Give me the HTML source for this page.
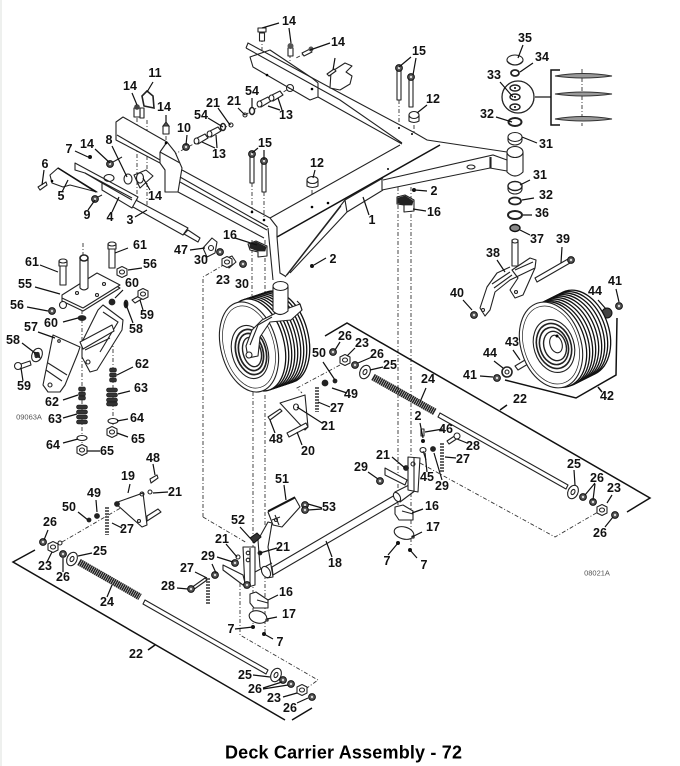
<!DOCTYPE html>
<html><head><meta charset="utf-8"><style>
html,body{margin:0;padding:0;background:#fff}
svg{display:block;filter:blur(.35px)}
text{font-family:"Liberation Sans",sans-serif;font-weight:bold;font-size:12.5px;fill:#111;text-anchor:middle;dominant-baseline:central}
.p{fill:#fff;stroke:#222;stroke-width:1.1;stroke-linejoin:round}
.n{fill:none;stroke:#222;stroke-width:1.1}
.l{fill:none;stroke:#111;stroke-width:1.2}
.d{fill:none;stroke:#333;stroke-width:.9;stroke-dasharray:4 2 1 2}
.b{fill:none;stroke:#111;stroke-width:1.5}
.k{fill:#222;stroke:#222;stroke-width:.8}
.t{fill:#fff;stroke:#111;stroke-width:1.3}
</style></head><body>
<svg width="680" height="766" viewBox="0 0 680 766" xmlns="http://www.w3.org/2000/svg">
<defs>
<g id="nut"><circle r="3.4" fill="#555" stroke="#111"/><circle r="1.2" fill="#ddd"/></g>
<g id="hx"><path d="M-5,-3L0,-5.5 5,-3 5,3 0,5.5 -5,3Z" class="p"/><ellipse rx="2.5" ry="2" class="n"/></g>
<g id="wa"><ellipse rx="5" ry="7" class="p" transform="rotate(25)"/><ellipse rx="1.8" ry="2.7" class="n" transform="rotate(25)"/></g>
<g id="col"><path d="M-6,-2L4,-7 7,-3 -3,3Z" class="p"/><ellipse cx="-4.5" cy="0" rx="2.4" ry="3" class="p"/></g>
<g id="sp"><rect x="-5.5" y="0" width="11" height="4" rx="2" fill="#333" stroke="#111" stroke-width=".6"/></g>
</defs>
<rect width="680" height="766" fill="#fff"/>
<rect width="2" height="766" fill="#eef0ee"/>

<!-- dashed construction lines -->
<path class="d" d="M252,183V212M264,192V220M252,240V296M265,240V300M253,392V625M265,395V635M240,583V635L318,680 307,688M203,517V277L227,263M203,517L247,543"/>
<path class="d" d="M398,187V505M411,187V547M420,463L555,537 598,512M399,100V128M414,125V150M312,190V208M83,243V255M82,310V445M113,340V430M62,542L143,495M340,365L297,388 302,393M173,155L231,124M245,115L290,88M262,38V50M290,54V72M308,52L296,58M147,120V205M137,118V200M166,127V145M582,69V126"/>

<!-- main frame -->
<path class="p" style="stroke:none" d="M246,48L248,43 340,93 415,133 427,140 507,152 507,171 490,168 382,190 347,212 345,200 277,237 268,228 270,218 400,145Z"/>
<path class="p" d="M250,57L253,67 310,100 318,97 318,83 312,78 270,50Z"/>
<path class="n" d="M246,48L248,43 340,93 415,133 427,140 507,152M246,48L340,100 402,143M318,97L402,144"/>
<circle cx="267" cy="75" r="1.3"/><circle cx="312" cy="89" r="1.3"/><ellipse cx="290" cy="88" rx="3.5" ry="3.5" class="n"/>
<path class="p" d="M330,88L331,72 345,63 352,66 346,72 352,76 350,84 340,90Z"/>
<path class="n" d="M270,218L400,145M270,218L277,227 277,237"/>
<path class="b" d="M277,237L440,145"/>
<path class="n" d="M383,180L493,155 507,160M382,190L490,168 507,171M382,178V190M490,157V168"/>
<path class="n" d="M345,200L383,178M347,212L383,190M345,200L347,212"/>
<path class="n" d="M345,200L285,277M347,212L290,273M341,206L287,275"/>
<path class="n" d="M268,228L273,280M277,237L280,273 285,276"/>
<ellipse cx="471" cy="167" rx="4" ry="2" class="n"/>
<circle cx="388" cy="169" r="1"/><circle cx="399" cy="128" r="1"/><circle cx="412" cy="134" r="1"/>

<!-- left beam block -->
<path class="p" d="M116,122L123,117 167,142 175,152 182,168 178,192 165,192 165,170 160,163 116,140Z"/>
<path class="n" d="M117,135L160,160M160,152L180,163M167,142L160,152M160,152V163"/>
<path class="n" d="M182,170L270,218M180,177L268,227M180,182L267,230M178,192L264,238"/>
<circle cx="252" cy="212" r="1.3"/><circle cx="264" cy="220" r="1.3"/><circle cx="312" cy="207" r="1.3"/><circle cx="328" cy="203" r="1.3"/><circle cx="166" cy="143" r="1.3"/>
<path class="p" d="M134,175L146,170 153,176 140,188Z"/><ellipse cx="140" cy="178" rx="3.5" ry="5" class="p"/>

<!-- arm 3/4/5 -->
<path class="p" d="M132,198L188,228 183,235 133,207Z"/>
<path class="p" d="M75,163L138,197 132,208 102,190 102,183 85,173 75,170Z"/>
<path class="n" d="M85,173L132,198M102,183L132,200"/>
<path class="p" d="M188,230L200,238 198,242 184,234Z"/>
<path class="p" d="M50,175L58,168 97,192 70,185 63,187 52,183Z"/><path class="b" d="M58,168L96,192"/>
<ellipse cx="109" cy="178" rx="5" ry="3.5" class="n"/>
<circle cx="52" cy="181" r="1.3"/>
<path class="p" d="M203,248L212,238 217,242 215,253 207,257Z"/><circle cx="211" cy="248" r="2.5" class="n"/>

<!-- D ring, bolts, hardware top left -->
<path class="n" style="stroke-width:1.6" d="M144,106L142,96 147,91 153,96 154,108Z"/>
<path class="p" d="M140,108h4v10h-4Z"/>
<path class="p" d="M134,108h6v9h-6Z"/><circle cx="137" cy="107" r="2.8" fill="#444"/>
<path class="p" d="M163,126h6v8h-6Z"/><path d="M163,126h6l-3,-4Z" fill="#555" stroke="#222"/>
<use href="#nut" x="186" y="147"/>
<use href="#nut" x="110" y="164"/><path class="n" d="M113,162L122,157"/>
<circle cx="90" cy="157" r="2" fill="#111"/>
<ellipse cx="128" cy="179" rx="4" ry="5" class="p"/>
<use href="#nut" x="95" y="199"/><path class="n" d="M98,197L102,195"/>
<path class="p" d="M38,187L46,182 47,185 40,190Z"/>
<use href="#col" x="201" y="141"/><use href="#col" x="214" y="134"/>
<use href="#col" x="264" y="104"/><use href="#col" x="276" y="98"/>
<ellipse cx="223" cy="127" rx="2.5" ry="3.5" class="p" style="stroke-width:1.5"/><circle cx="231" cy="125" r="2" class="n"/>
<ellipse cx="252" cy="111" rx="2.5" ry="3.5" class="p" style="stroke-width:1.5"/><circle cx="245" cy="115" r="2" class="n"/>
<path class="p" d="M259.500,33h5v8h-5Z"/><path class="p" d="M258,28h8v4h-8Z"/>
<path class="p" d="M288,48h5v8h-5Z"/><circle cx="290.500" cy="46" r="3" fill="#555"/>
<path class="p" d="M302,53L310,49 312,52 304,56Z"/><circle cx="311" cy="49" r="2.5" fill="#555"/>
<path class="p" d="M327,74L334,69 336,71 329,76Z"/>

<!-- vertical bolts 15 -->
<path class="p" d="M250,155h4v28h-4ZM262,162h4v30h-4ZM397,68h4v32h-4ZM409,77h4v30h-4Z"/>
<use href="#nut" x="252" y="154"/><use href="#nut" x="264" y="161"/><use href="#nut" x="399" y="68"/><use href="#nut" x="411" y="77"/>
<!-- 12 bumpers -->
<path class="p" d="M307,180h11v6q-5.500,3 -11,0Z"/><ellipse cx="312.500" cy="180" rx="5.500" ry="3.500" class="p"/>
<path class="p" d="M409,115h10v6q-5,3 -10,0Z"/><ellipse cx="414" cy="115" rx="5" ry="3.500" class="p"/>

<!-- blocks 16 upper -->
<path class="p" d="M248,244L256,241 267,246 267,256 258,257 258,252 250,250Z"/><path class="k" d="M250,244l6,-2 10,5 -1,4 -7,0 -8,-3Z"/>
<path class="p" d="M397,197L405,195 414,200 414,211 404,212 404,205 397,204Z"/><path class="k" d="M398,198l7,-2 8,5 -1,4 -8,0 -6,-2Z"/>

<!-- stack right -->
<ellipse cx="515" cy="60" rx="8" ry="5" class="p"/><path class="n" d="M507,61Q515,69 523,61"/>
<ellipse cx="515" cy="73" rx="4" ry="3" class="p" style="stroke-width:1.8"/>
<circle cx="518" cy="97" r="16" class="n" style="stroke-width:1.3"/>
<ellipse cx="515" cy="88" rx="5" ry="3" class="p" style="stroke-width:1.4"/><ellipse cx="515" cy="97" rx="5" ry="3" class="p" style="stroke-width:1.4"/><ellipse cx="515" cy="107" rx="5" ry="3" class="p" style="stroke-width:1.4"/>
<circle cx="515" cy="88" r="1"/><circle cx="515" cy="97" r="1"/><circle cx="515" cy="107" r="1"/>
<path class="l" d="M535,97H551"/><path class="b" d="M560,70H551V125H560"/>
<path d="M555,76Q583,71 612,76Q583,80 555,76ZM555,94Q583,90 612,94Q583,98 555,94ZM555,119Q583,114 612,119Q583,123 555,119Z" fill="#999" stroke="#333"/>
<ellipse cx="515" cy="122" rx="6.500" ry="4" class="p" style="stroke-width:2"/>
<path class="p" d="M508,137v3a7,5 0 0 0 14,0v-3Z"/><ellipse cx="515" cy="137" rx="7" ry="4.500" class="p"/>
<path class="p" d="M507,152V172Q515,180 523,172V152Z"/><ellipse cx="515" cy="152" rx="8" ry="5.500" class="p"/>
<path class="n" d="M491,157V168"/>
<path class="p" d="M508,186v3a7,5 0 0 0 14,0v-3Z"/><ellipse cx="515" cy="186" rx="7" ry="4.500" class="p" style="stroke-width:1.4"/>
<ellipse cx="515" cy="201" rx="6" ry="3.500" class="p" style="stroke-width:1.8"/>
<ellipse cx="515" cy="215" rx="7" ry="4" class="p" style="stroke-width:2"/>
<ellipse cx="515" cy="228" rx="5" ry="3.500" fill="#888" stroke="#111" stroke-width="1.4"/>
<!-- fork 38 -->
<path class="p" d="M512,240h6v26h-6Z"/><ellipse cx="515" cy="241" rx="3" ry="2" class="p"/>
<path class="p" d="M510,267L497,273 487,287 480,308 485,316 490,310 495,292 510,280 535,268 523,295 515,298 510,290 518,278 512,270 530,258 536,260 535,268 510,280"/>
<path class="n" d="M492,284L510,272M494,288L512,275M515,270L533,262"/>
<circle cx="483" cy="310" r="1.500" class="n"/><circle cx="516" cy="292" r="1.500" class="n"/>
<path class="p" d="M535,278L568,259 570,263 537,282Z"/><use href="#nut" x="571" y="260"/>
<use href="#nut" x="474" y="315"/>
<use href="#nut" x="619" y="306"/>
<circle cx="607" cy="313" r="5" fill="#444" stroke="#111"/>
<path class="p" d="M515,366L525,360 528,364 518,370Z"/>
<circle cx="507" cy="372" r="5" class="p" style="stroke-width:1.6"/><circle cx="507" cy="372" r="2" class="n"/>
<use href="#nut" x="497" y="378"/>

<!-- wheel right -->
<g id="w2">
<ellipse cx="579" cy="333" rx="30" ry="44" class="t" transform="rotate(-18 579 333)"/>
<ellipse cx="576" cy="334.500" rx="30" ry="44" class="t" transform="rotate(-18 576 334.500)"/>
<ellipse cx="573" cy="336" rx="30" ry="44" class="t" transform="rotate(-18 573 336)"/>
<ellipse cx="570" cy="337.500" rx="30" ry="44" class="t" transform="rotate(-18 570 337.500)"/>
<ellipse cx="567" cy="339" rx="30" ry="44" class="t" transform="rotate(-18 567 339)"/>
<ellipse cx="564" cy="340.500" rx="30" ry="44" class="t" transform="rotate(-18 564 340.500)"/>
<ellipse cx="561" cy="342" rx="30" ry="44" class="t" transform="rotate(-18 561 342)"/>
<ellipse cx="558" cy="343.500" rx="30" ry="44" class="t" transform="rotate(-18 558 343.500)"/>
<ellipse cx="555" cy="344.500" rx="30" ry="44" class="t" transform="rotate(-18 555 344.500)"/>
<ellipse cx="551" cy="345" rx="30" ry="44" class="p" transform="rotate(-18 551 345)"/>
<ellipse cx="551" cy="345" rx="27" ry="40" class="n" style="stroke-width:.7" transform="rotate(-18 551 345)"/>
<ellipse cx="554" cy="346" rx="20" ry="27" class="n" transform="rotate(-18 554 346)"/>
<ellipse cx="554" cy="346" rx="17" ry="23" class="n" style="stroke-width:1.6" transform="rotate(-18 554 346)"/>
<ellipse cx="554" cy="346" rx="14" ry="19" class="n" style="stroke-width:1.6" transform="rotate(-18 554 346)"/>
<ellipse cx="555" cy="346" rx="11" ry="15" class="n" style="stroke-width:1.4" transform="rotate(-18 555 346)"/>
<ellipse cx="556" cy="344" rx="6" ry="9" class="p" transform="rotate(-18 556 344)"/>
<circle cx="557" cy="336" r="1.500"/>
</g>

<!-- wheel left -->
<g id="w1">
<ellipse cx="280" cy="337" rx="28" ry="47" class="t" transform="rotate(-15 280 337)"/>
<ellipse cx="277" cy="338" rx="28" ry="47" class="t" transform="rotate(-15 277 338)"/>
<ellipse cx="274" cy="339" rx="28" ry="47" class="t" transform="rotate(-15 274 339)"/>
<ellipse cx="271" cy="340" rx="28" ry="47" class="t" transform="rotate(-15 271 340)"/>
<ellipse cx="268" cy="341" rx="28" ry="47" class="t" transform="rotate(-15 268 341)"/>
<ellipse cx="265" cy="342" rx="28" ry="47" class="t" transform="rotate(-15 265 342)"/>
<ellipse cx="262" cy="343" rx="28" ry="47" class="t" transform="rotate(-15 262 343)"/>
<ellipse cx="259" cy="344" rx="28" ry="47" class="t" transform="rotate(-15 259 344)"/>
<ellipse cx="256" cy="345" rx="28" ry="47" class="t" transform="rotate(-15 256 345)"/>
<ellipse cx="249" cy="347" rx="28" ry="46" class="p" transform="rotate(-15 249 347)"/>
<ellipse cx="249" cy="347" rx="25" ry="42" class="n" style="stroke-width:.7" transform="rotate(-15 249 347)"/>
<ellipse cx="250" cy="352" rx="18" ry="27" class="n" transform="rotate(-15 250 352)"/>
<ellipse cx="251" cy="352" rx="15" ry="23" class="n" style="stroke-width:1.7" transform="rotate(-15 251 352)"/>
<ellipse cx="251" cy="352" rx="12" ry="19" class="n" style="stroke-width:1.7" transform="rotate(-15 251 352)"/>
<ellipse cx="252" cy="352" rx="9" ry="15" class="n" style="stroke-width:1.4" transform="rotate(-15 252 352)"/>
</g>
<!-- fork left and post -->
<path class="p" d="M278,312L300,304 302,310 291,320 270,322 260,337 258,356 248,358 246,346 252,330 262,320Z"/>
<path class="n" d="M272,317L258,325 250,345"/>
<circle cx="249" cy="355" r="3" class="p"/>
<path class="n" d="M297,301L300,304 302,310"/>
<path class="p" d="M273,287V311Q280,318 288,311V287Z"/><ellipse cx="280.500" cy="286" rx="7.500" ry="4.500" class="p"/>

<!-- hardware near 23/30 -->
<path class="p" d="M225,259L232,256 236,262 229,268Z"/><use href="#hx" x="227" y="262"/>
<use href="#nut" x="220" y="252"/>
<use href="#nut" x="243" y="264"/>
<circle cx="312" cy="266" r="2" fill="#111"/>
<circle cx="414" cy="190" r="2" fill="#111"/>

<!-- suspension left -->
<path class="p" d="M62,298L97,276 120,288 83,311 62,301Z"/>
<path class="p" d="M62,295L97,273 120,285 83,308 62,298Z"/>
<circle cx="77" cy="293" r="1.500" class="n"/><circle cx="97" cy="295" r="1.500" class="n"/><circle cx="104" cy="284" r="1.500" class="n"/>
<path class="p" d="M80,258V288Q84,292 88,288V258Z"/><ellipse cx="84" cy="258" rx="4" ry="3" class="p" style="stroke-width:1.6"/>
<path class="p" d="M60,265h6v20h-6Z"/><path class="p" d="M59,261h8v5h-8Z"/><ellipse cx="63" cy="261" rx="4" ry="2" class="p"/>
<path class="p" d="M109,249h6v19h-6Z"/><path class="p" d="M108,244h8v5h-8Z"/><ellipse cx="112" cy="244" rx="4" ry="2" class="p"/>
<use href="#hx" x="122" y="272"/>
<use href="#nut" x="52" y="311"/><circle cx="63" cy="305" r="3.500" class="p"/>
<circle cx="112" cy="302" r="3" class="k"/>
<ellipse cx="82" cy="318" rx="4" ry="2.500" class="k"/>
<path class="p" d="M132,300L142,294 145,297 135,303Z"/><use href="#hx" x="143" y="294"/>
<ellipse cx="126" cy="304" rx="2" ry="4" class="k"/>
<path class="p" d="M43,385L53,335 80,347 78,353 65,385 60,392 48,392Z"/>
<path class="p" d="M82,342L98,310 103,305 123,320 122,330 97,370 90,372 82,357Z"/>
<path class="n" d="M103,312L118,322 100,352M48,363L67,375M46,370L62,381M85,350L110,338"/>
<path class="p" d="M80,342L112,325 114,331 83,349Z"/>
<circle cx="88" cy="362" r="2" class="n"/><circle cx="50" cy="385" r="2" class="n"/><circle cx="59" cy="341" r="1.300" class="n"/>
<use href="#wa" x="37" y="355"/>
<path class="k" d="M34,352l5,1 1,5 -5,-2Z"/>
<path class="p" d="M18,365L30,361 31,365 20,369Z"/><circle cx="18" cy="366" r="3.500" class="p"/>
<g transform="translate(113,368) scale(.65,1)"><use href="#sp"/><use href="#sp" y="5"/><use href="#sp" y="10"/></g>
<g transform="translate(112,388)"><use href="#sp"/><use href="#sp" y="5"/><use href="#sp" y="10"/><use href="#sp" y="14"/></g>
<ellipse cx="113" cy="421" rx="5" ry="2.500" class="p"/><use href="#hx" x="112" y="432"/>
<g transform="translate(82,387) scale(.65,1)"><use href="#sp"/><use href="#sp" y="5"/><use href="#sp" y="9"/></g>
<g transform="translate(82,405)"><use href="#sp"/><use href="#sp" y="5"/><use href="#sp" y="10"/><use href="#sp" y="15"/></g>
<ellipse cx="82" cy="438" rx="5" ry="2.500" class="p"/><use href="#hx" x="82" y="450"/>

<!-- plate 20 -->
<path class="p" d="M280,403L305,395 308,427 305,430Z"/>
<path class="p" d="M287,433L306,423 308,427 289,437Z"/>
<path class="p" d="M268,417L280,409 282,411 270,420Z"/>
<ellipse cx="296" cy="407" rx="2.500" ry="3" class="n"/>
<path d="M317,387V412" stroke="#666" stroke-width="4" stroke-dasharray="2 1"/>
<circle cx="325" cy="383" r="3" class="k"/><circle cx="335" cy="381" r="2" class="k"/>
<use href="#nut" x="333" y="352"/>
<use href="#hx" x="345" y="360"/><use href="#nut" x="355" y="365"/>
<use href="#wa" x="365" y="372"/>
<!-- spring 24 upper and rod -->
<path d="M373,377L435,412" stroke="#222" stroke-width="7" stroke-dasharray="1.600 .5"/>
<path class="p" d="M440,413L568,485 566,489 438,417Z"/>
<use href="#wa" x="573" y="492"/><use href="#nut" x="583" y="497"/><use href="#nut" x="593" y="502"/>
<use href="#hx" x="602" y="510"/><use href="#nut" x="615" y="515"/>
<!-- bracket 22 upper -->
<path class="b" d="M325,336L347,323 650,498 627,512M500,410L507,405"/>
<!-- bracket 42 -->
<path class="b" d="M505,380L576,398 616,375 617,318M598,387L602,392"/>

<!-- lower left plate 19 -->
<path class="p" d="M115,503L143,493 147,525 142,527Z"/>
<path class="p" d="M147,516L158,509 161,512 147,521Z"/>
<circle cx="117" cy="504" r="2.500" class="k"/><circle cx="142" cy="494" r="2" class="n"/><circle cx="139" cy="521" r="1.500" class="n"/>
<path class="p" d="M150,479L157,475 158,478 151,483Z"/>
<circle cx="150" cy="492" r="2" class="n"/>
<path d="M107,507V535" stroke="#666" stroke-width="4" stroke-dasharray="2 1"/>
<circle cx="97" cy="516" r="2.500" class="k"/><circle cx="89" cy="520" r="2" class="k"/>
<use href="#nut" x="43" y="542"/><use href="#hx" x="53" y="547"/><circle cx="60" cy="543" r="2" class="n"/>
<use href="#nut" x="63" y="554"/><use href="#wa" x="72" y="559"/>
<path d="M79,562L140,597" stroke="#222" stroke-width="7" stroke-dasharray="1.600 .5"/>
<path class="p" d="M145,600L268,670 266,674 143,604Z"/>
<use href="#wa" x="276" y="675"/><use href="#nut" x="283" y="680"/><use href="#nut" x="291" y="684"/>
<use href="#hx" x="302" y="690"/><use href="#nut" x="312" y="697"/>
<path class="b" d="M35,550L13,562 285,720M292,720L312,708M148,650L155,645"/>

<!-- central shaft 18 -->
<path class="p" d="M272,567L395,495 398,502 273,575Z"/>
<path class="p" d="M395,492L413,483 416,490 400,502Z"/>
<ellipse cx="397" cy="497" rx="3" ry="5" class="p" transform="rotate(-30 397 497)"/>
<path class="p" d="M268,522L258,540 260,567 267,578 273,577 268,547 272,523Z"/>
<path class="n" d="M255,572L272,563"/>
<ellipse cx="266" cy="572" rx="4" ry="6" class="p" transform="rotate(-30 266 572)"/>
<path class="p" d="M223,565L243,575 245,583 243,585 223,570Z"/>
<path class="p" d="M243,547H255V585L245,588Z"/><path class="n" d="M250,548V586"/>
<circle cx="248" cy="553" r="1.800" class="n"/><circle cx="248" cy="560" r="1.800" class="n"/><use href="#nut" x="247" y="585"/>
<path class="p" d="M268,512L295,498 300,507 282,527 273,525Z"/><path class="b" d="M268,511L295,497"/>
<path class="n" d="M275,515L279,525M272,520l8,-3"/><circle cx="276" cy="520" r="1.500" class="n"/>
<use href="#nut" x="305" y="505"/><use href="#nut" x="305" y="510"/>
<path d="M250,538l7,-5 4,4 -7,6Z" fill="#333" stroke="#111"/>
<use href="#nut" x="235" y="563"/><circle cx="238" cy="557" r="2" class="n"/><circle cx="260" cy="553" r="2" class="k"/>
<use href="#nut" x="215" y="575"/>
<path d="M208,578V605" stroke="#666" stroke-width="4" stroke-dasharray="2 1"/>
<path class="p" d="M191,588L205,578 207,580 193,590Z"/><use href="#nut" x="191" y="589"/>
<!-- lower 16/17 left -->
<path class="p" d="M250,594L256,592 268,600 268,608 254,608 250,603Z"/><path class="n" d="M257,600L268,603"/>
<ellipse cx="258" cy="617" rx="9" ry="6" class="p" transform="rotate(15 258 617)"/><circle cx="267" cy="620" r="1.800" fill="#444"/>
<circle cx="253" cy="627" r="2" fill="#111"/><circle cx="264" cy="634" r="2" fill="#111"/>
<!-- right bracket -->
<path class="p" d="M385,468L407,480 405,485 385,475Z"/>
<path class="p" d="M408,457L420,458 418,492 408,490Z"/><path class="n" d="M414,458V491"/>
<circle cx="413" cy="464" r="2" class="n"/>
<use href="#nut" x="380" y="481"/><circle cx="406" cy="468" r="2.500" class="k"/>
<circle cx="423" cy="441" r="2" fill="#111"/>
<path class="p" d="M421,429h3v7h-3Z"/>
<ellipse cx="423" cy="450" rx="3" ry="2.500" class="p"/><path class="n" d="M423,451L426,460"/>
<circle cx="433" cy="449" r="2.500" class="k"/>
<path d="M442,443V472" stroke="#666" stroke-width="4" stroke-dasharray="2 1"/>
<path class="p" d="M447,441L456,435 458,438 449,444Z"/><circle cx="457" cy="436" r="3" class="p"/>
<path class="p" d="M395,507L403,505 413,511 413,520 399,520 395,514Z"/><path class="n" d="M402,511L413,514"/>
<ellipse cx="404" cy="533" rx="10" ry="6" class="p" transform="rotate(15 404 533)"/><circle cx="413" cy="537" r="1.800" fill="#444"/>
<circle cx="398" cy="543" r="2" fill="#111"/><circle cx="410" cy="550" r="2" fill="#111"/>

<!-- leader lines -->
<path class="l" d="M279,23L262,28M289,28L291,43M330,43L310,50M335,58L333,70M153,82L147,92M132,93L137,105M166,115V122M218,108L230,125M208,118L223,127M238,108L245,115M252,98V108M280,110L268,106M282,110L278,98M215,148L202,142M217,148L216,135M187,135L186,145M75,151L88,157M95,149L110,163M112,146L127,177M44,170L42,185M62,192L68,180M88,210L95,200M112,212L119,197M135,217L147,210M150,190L143,178M258,148L252,153M264,150V160M315,170L313,178M235,238L257,245M190,250L205,248M128,248L115,253"/>
<path class="l" d="M411,57L399,67M416,58L413,75M427,105L417,113M523,45L518,58M533,63L520,72M500,82L513,97M496,117L512,122M537,143L522,137M530,180L520,185M534,198L522,200M532,215H523M530,235L520,230M427,191L415,190M426,211L413,209M369,215L363,197M562,247L561,263M497,260L505,272M326,258L314,265"/>
<path class="l" d="M463,300L472,310M616,289L619,302M598,300L606,309M513,350L520,360M494,361L503,368M480,376L493,377M40,265L58,272M142,268L128,270M35,287L60,294M27,307L48,311M123,290L115,298M63,322L78,318M140,300L143,310M125,302L133,323M38,332L55,338M22,343L35,353M23,381L21,368M133,367L117,375M130,391L118,394M128,419L117,421M128,437L117,433M63,400L78,395M63,418L77,414M63,443L78,439M100,451H87"/>
<path class="l" d="M383,367L370,370M372,357L358,363M355,348L347,356M340,342L335,350M323,362L335,380M347,393L332,388M330,407L318,402M322,423L297,407M275,433L270,420M302,445L297,432M426,388L420,402M420,423L423,438M443,429L425,432M467,443L457,439M456,458L445,457M427,472L425,453M442,480L434,453M392,457L405,468M368,472L378,479M574,470L575,485M595,483L585,495M595,484L593,500M612,495L607,503M605,527L613,517"/>
<path class="l" d="M153,464L155,475M130,484L128,493M168,492L153,493M96,500L97,512M78,512L88,520M122,528L112,523M48,530L44,540M47,562L52,552M63,572V558M92,553L78,556M107,597L112,585M253,675L270,677M263,688L282,682M263,689L288,685M283,697L297,693M297,703L308,698"/>
<path class="l" d="M322,508L308,504M322,509L308,510M284,485L286,500M240,527L250,538M226,544L237,557M277,548L260,553M217,557L233,562M212,564L216,573M195,572L207,578M177,588L188,589M332,557L326,541M278,595L268,600M277,617L267,619M235,629L253,627M273,639L264,634M423,509L412,513M422,532L412,537M388,555L398,543M417,558L410,550"/>

<!-- labels -->
<text x="289" y="21">14</text><text x="338" y="42">14</text><text x="155" y="73">11</text><text x="130" y="86">14</text><text x="164" y="107">14</text>
<text x="213" y="103">21</text><text x="201" y="115">54</text><text x="234" y="101">21</text><text x="252" y="91">54</text><text x="286" y="115">13</text><text x="219" y="154">13</text>
<text x="184" y="128">10</text><text x="69" y="149">7</text><text x="87" y="144">14</text><text x="109" y="140">8</text><text x="45" y="164">6</text><text x="61" y="196">5</text>
<text x="87" y="215">9</text><text x="110" y="217">4</text><text x="130" y="220">3</text><text x="155" y="196">14</text><text x="265" y="143">15</text><text x="317" y="163">12</text>
<text x="230" y="235">16</text><text x="181" y="250">47</text>
<text x="419" y="51">15</text><text x="433" y="99">12</text><text x="525" y="38">35</text><text x="542" y="57">34</text><text x="494" y="75">33</text><text x="487" y="114">32</text>
<text x="546" y="144">31</text><text x="540" y="175">31</text><text x="546" y="195">32</text><text x="542" y="213">36</text><text x="537" y="239">37</text><text x="563" y="239">39</text><text x="493" y="253">38</text>
<text x="434" y="191">2</text><text x="434" y="212">16</text><text x="372" y="220">1</text>
<text x="140" y="245">61</text><text x="32" y="262">61</text><text x="150" y="264">56</text><text x="25" y="284">55</text><text x="17" y="305">56</text><text x="132" y="283">60</text><text x="147" y="315">59</text><text x="136" y="329">58</text>
<text x="51" y="323">60</text><text x="31" y="327">57</text><text x="13" y="340">58</text><text x="24" y="386">59</text><text x="142" y="364">62</text><text x="141" y="388">63</text><text x="52" y="402">62</text><text x="55" y="419">63</text>
<text x="137" y="418">64</text><text x="138" y="439">65</text><text x="53" y="445">64</text><text x="107" y="451">65</text>
<text x="29" y="417" style="font-size:7.500px;font-weight:normal;fill:#555">09063A</text>
<text x="201" y="260">30</text><text x="223" y="280">23</text><text x="242" y="284">30</text><text x="333" y="259">2</text><text x="319" y="353">50</text><text x="337" y="408">27</text><text x="328" y="426">21</text>
<text x="276" y="439">48</text><text x="308" y="451">20</text><text x="282" y="479">51</text><text x="153" y="458">48</text><text x="128" y="476">19</text><text x="175" y="492">21</text><text x="94" y="493">49</text>
<text x="615" y="281">41</text><text x="595" y="291">44</text><text x="457" y="293">40</text><text x="512" y="342">43</text><text x="490" y="353">44</text><text x="470" y="375">41</text><text x="607" y="396">42</text><text x="520" y="399">22</text>
<text x="345" y="336">26</text><text x="362" y="343">23</text><text x="377" y="354">26</text><text x="390" y="365">25</text><text x="351" y="394">49</text><text x="428" y="379">24</text><text x="418" y="416">2</text><text x="446" y="429">46</text><text x="473" y="446">28</text><text x="463" y="459">27</text>
<text x="383" y="455">21</text><text x="361" y="467">29</text><text x="427" y="477">45</text><text x="442" y="486">29</text><text x="574" y="464">25</text><text x="597" y="478">26</text><text x="614" y="488">23</text>
<text x="69" y="507">50</text><text x="50" y="522">26</text><text x="127" y="529">27</text><text x="45" y="566">23</text><text x="63" y="577">26</text><text x="100" y="551">25</text><text x="107" y="602">24</text><text x="136" y="654">22</text>
<text x="329" y="507">53</text><text x="238" y="520">52</text><text x="222" y="539">21</text><text x="283" y="547">21</text><text x="335" y="563">18</text><text x="208" y="556">29</text><text x="187" y="568">27</text><text x="168" y="586">28</text>
<text x="286" y="592">16</text><text x="289" y="614">17</text><text x="231" y="629">7</text><text x="280" y="642">7</text><text x="245" y="675">25</text><text x="255" y="689">26</text><text x="274" y="698">23</text><text x="290" y="708">26</text>
<text x="432" y="506">16</text><text x="433" y="527">17</text><text x="387" y="561">7</text><text x="424" y="565">7</text><text x="600" y="533">26</text>
<text x="597" y="573" style="font-size:7.500px;font-weight:normal;fill:#555">08021A</text>
<text x="343.500" y="752.500" textLength="237" lengthAdjust="spacing" style="font-size:18px;fill:#000">Deck Carrier Assembly - 72</text>
</svg>
</body></html>
